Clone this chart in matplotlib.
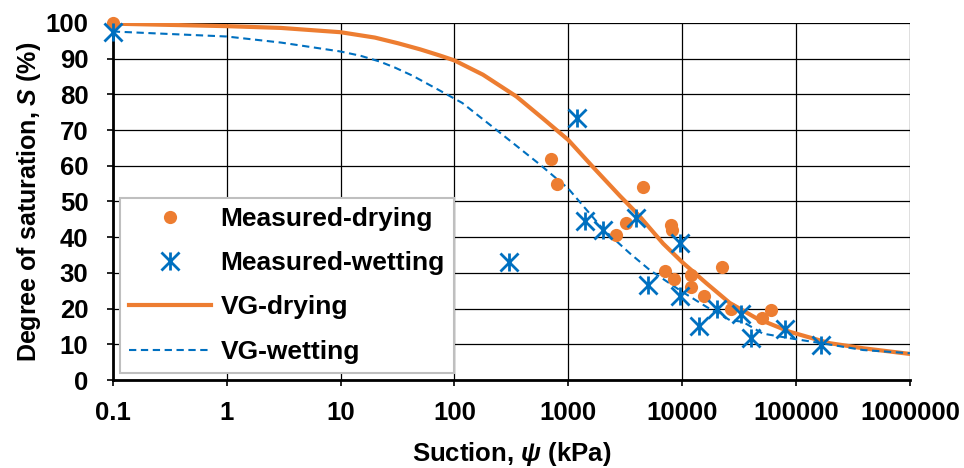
import matplotlib
matplotlib.use('Agg')
import matplotlib.pyplot as plt
from matplotlib.path import Path

# measured points
dry_suction = [0.1, 700, 800, 2600, 3200, 4500, 7000, 8000, 8200, 8400,
               12000, 12000, 15500, 22500, 27000, 50000, 60000]
dry_sat = [100, 62, 55, 40.5, 44, 54, 30.6, 43.5, 42, 28.3,
           29.5, 26, 23.6, 31.6, 20, 17.3, 19.6]

wet_suction = [0.1, 300, 1200, 1400, 2000, 3900, 5000, 9500, 9500,
               14000, 20000, 33000, 40000, 80000, 165000]
wet_sat = [97.5, 33, 73.5, 44.5, 42, 45.5, 26.7, 38.5, 23.5,
           15, 20, 18.5, 11.7, 14.3, 9.8]

# fitted VG curves
vg_dry_suction = [0.1, 1, 3, 10, 20, 32, 50, 74, 100, 178, 350, 600, 1000,
                  1650, 2830, 3700, 4240, 6800, 10000, 16300, 26100, 44800,
                  88000, 198000, 387000, 1000000]
vg_dry_sat = [99.8, 99.1, 98.6, 97.4, 95.9, 94.3, 92.6, 90.9, 89.5, 85.5,
              79.4, 73.2, 67.2, 59.6, 51.6, 47.8, 45.8, 38.2, 33.0, 27.1,
              21.6, 17.3, 13.5, 10.3, 8.9, 7.3]

vg_wet_suction = [0.1, 1, 3, 10, 15, 22, 30, 43, 77, 117, 250, 560, 1000,
                  1345, 2000, 3460, 5190, 10000, 16300, 26100, 34000, 51000,
                  88000, 183000, 387000, 1000000]
vg_wet_sat = [97.6, 96.2, 94.5, 92.0, 90.8, 89.2, 87.5, 85.2, 80.8, 77.6,
              69.3, 60.4, 53.6, 48.8, 42.4, 35.5, 30.8, 24.7, 20.5, 16.8,
              16.3, 13.0, 11.7, 10.1, 8.4, 7.5]

x_ticks = [0.1, 1, 10, 100, 1000, 10000, 100000, 1000000]
x_tick_labels = ['0.1', '1', '10', '100', '1000', '10000', '100000', '1000000']

orange = '#ED7D31'
blue = '#0070C0'

plt.rcParams['font.family'] = ['Liberation Sans', 'DejaVu Sans']
plt.rcParams['font.weight'] = 'bold'
plt.rcParams['mathtext.fontset'] = 'custom'
plt.rcParams['mathtext.it'] = 'Liberation Sans:italic:bold'
plt.rcParams['mathtext.rm'] = 'Liberation Sans:bold'
plt.rcParams['mathtext.bf'] = 'Liberation Sans:bold'

# Excel-like star marker: X plus a vertical bar
star = Path([(-1, -1), (1, 1), (-1, 1), (1, -1), (0, -1), (0, 1)],
            [Path.MOVETO, Path.LINETO, Path.MOVETO, Path.LINETO, Path.MOVETO, Path.LINETO])

fig = plt.figure(figsize=(9.64, 4.68), dpi=100)
ax = fig.add_axes([0.117, 0.188, 0.827, 0.763])

ax.plot(dry_suction, dry_sat, 'o', color=orange, ms=9.5, mec='none',
        label='Measured-drying', zorder=5, clip_on=False)
ax.plot(wet_suction, wet_sat, linestyle='none', marker=star, color=blue, ms=13,
        mew=2, mfc='none', label='Measured-wetting', zorder=6, clip_on=False)
ax.plot(vg_dry_suction, vg_dry_sat, '-', color=orange, lw=3, label='VG-drying', zorder=3)
ax.plot(vg_wet_suction, vg_wet_sat, '--', color=blue, lw=1.5, dashes=(3.5, 2.2),
        label='VG-wetting', zorder=4)

ax.set_xscale('log')
ax.set_xlim(0.1, 1000000)
ax.set_ylim(0, 100)
ax.set_xticks(x_ticks)
ax.set_xticklabels(x_tick_labels)
ax.minorticks_off()
ax.set_yticks(range(0, 101, 10))
ax.tick_params(axis='both', labelsize=18.5, length=4.5, width=1.2, direction='out')
ax.tick_params(axis='y', pad=13)
ax.tick_params(axis='x', pad=10.5)
ax.grid(True, color='black', lw=0.9)
ax.set_axisbelow(True)

for side in ['top', 'right']:
    ax.spines[side].set_visible(False)
ax.spines['left'].set_linewidth(2)
ax.spines['bottom'].set_linewidth(2)

ax.set_xlabel(r'Suction, $\psi$ (kPa)', fontsize=18.5, fontweight='bold')
ax.set_ylabel('Degree of saturation, $S$ (%)', fontsize=18, fontweight='bold')
ax.xaxis.set_label_coords(0.5, -0.168)
ax.yaxis.set_label_coords(-0.087, 0.5)

leg = ax.legend(loc='lower left', bbox_to_anchor=(0.0088, 0.0196), fontsize=19,
                frameon=True, fancybox=False, framealpha=1, edgecolor='#BFBFBF',
                handlelength=3.1, labelspacing=0.77, borderpad=0.35,
                handletextpad=0.36, borderaxespad=0)
leg.get_frame().set_linewidth(1.5)

plt.savefig('out.png', dpi=100)
